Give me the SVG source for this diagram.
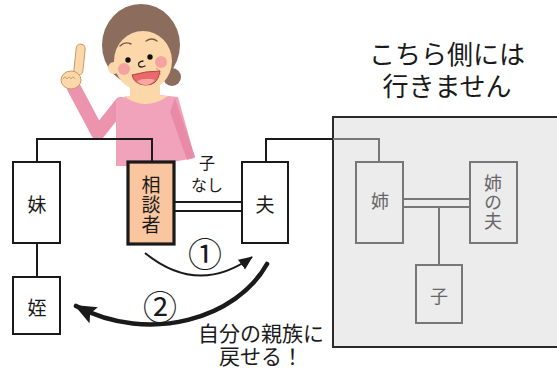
<svg xmlns="http://www.w3.org/2000/svg" width="557" height="368" viewBox="0 0 557 368">
  <style>
    text { font-family: "Noto Sans CJK JP", "Noto Sans", sans-serif; text-anchor: middle; dominant-baseline: central; fill: #1a1a1a; }
    .ml { font-family: "Liberation Sans", "Noto Sans CJK JP", sans-serif; }
    .vert { writing-mode: vertical-rl; letter-spacing: 1px; }
    .box { fill: #ffffff; stroke: #1a1a1a; stroke-width: 2; }
    .self { fill: #f9c6a0; stroke: #1a1a1a; stroke-width: 3.2; }
    .gbox { fill: #ececec; stroke: #777777; stroke-width: 2; }
    .area { fill: #ececec; stroke: #2a2a2a; stroke-width: 2; }
    .lbl { font-size: 19px; }
    .glbl { font-size: 18px; fill: #666666; }
    .ln { fill: none; stroke: #1a1a1a; stroke-width: 2; }
    .gln { fill: none; stroke: #777777; stroke-width: 2; }
    .skin { fill: #fcd7aa; }
    .hair { fill: #8c6d5d; }
  </style>
  <defs>
    <marker id="headThin" markerUnits="userSpaceOnUse" markerWidth="16" markerHeight="14" refX="13" refY="6" orient="auto">
      <path d="M0,0 L14,6 L0,12 Z" fill="#1a1a1a"/>
    </marker>
    <marker id="headBold" markerUnits="userSpaceOnUse" markerWidth="24" markerHeight="22" refX="20" refY="9" orient="auto">
      <path d="M0,0 L22,9 L0,18 L4,9 Z" fill="#1a1a1a"/>
    </marker>
  </defs>

  <!-- shaded area on the far side -->
  <g id="other-side">
    <rect class="area" x="333" y="117" width="230" height="230"/>
    <text class="ml" font-size="26"><tspan x="447" y="55">こちら側には</tspan><tspan x="447" y="87">行きません</tspan></text>
  </g>

  <!-- illustrated person pointing up -->
  <g id="person">
    <!-- raised arm -->
    <path d="M121,104 L98,133 L74,88" fill="none" stroke="#ec93ae" stroke-width="14" stroke-linejoin="round" stroke-linecap="round"/>
    <!-- torso -->
    <path d="M116,99 Q145,92 178,97 L195,158 L150,166 L116,166 Z" fill="#f1a3bb"/>
    <path d="M175,98 L195,157 L187,160 L170,112 Z" fill="#e98ba8"/>
    <!-- neck -->
    <rect class="skin" x="130" y="82" width="30" height="16"/>
    <path class="skin" d="M124,96 Q145,112 168,96 Z"/>
    <!-- hair -->
    <ellipse class="hair" cx="141" cy="45" rx="39" ry="41"/>
    <circle class="hair" cx="172" cy="77" r="9"/>
    <!-- ear and face -->
    <circle class="skin" cx="114" cy="68" r="6"/>
    <ellipse class="skin" cx="143" cy="61" rx="29" ry="30"/>
    <!-- brows, eyes, nose -->
    <path d="M120,46 Q125,41 131,44 M146,41 Q152,37 157,41" fill="none" stroke="#7a5a48" stroke-width="1.4" stroke-linecap="round"/>
    <circle cx="128" cy="60" r="2.7" fill="#111"/>
    <circle cx="150" cy="57" r="2.7" fill="#111"/>
    <path d="M143,61 Q137,62 139,66 Q141,68 145,66" fill="none" stroke="#222" stroke-width="1.3" stroke-linecap="round"/>
    <!-- cheeks -->
    <circle cx="124" cy="69" r="6" fill="#f5a3a0"/>
    <circle cx="161" cy="62" r="6" fill="#f5a3a0"/>
    <path d="M156,68 L160,71 M157,72 L161,74" stroke="#b88f6a" stroke-width="0.8" fill="none"/>
    <!-- open mouth -->
    <path d="M132,75 Q146,71 160,71 Q158,86 145,85 Q134,84 132,75 Z" fill="#e86a6a" stroke="#b5473f" stroke-width="1"/>
    <path d="M137,81 Q146,77 155,80 Q151,85 145,85 Q139,84 137,81 Z" fill="#f6a7a4"/>
    <!-- hand with raised finger -->
    <rect class="skin" x="75" y="44" width="9" height="31" rx="4.5" transform="rotate(6 79 60)" stroke="#c99a62" stroke-width="1"/>
    <ellipse class="skin" cx="71" cy="80" rx="10" ry="9" stroke="#c99a62" stroke-width="1"/>
    <path d="M63,79 q2,-4 4,0 q2,-4 4,0 q2,-4 4,0" fill="none" stroke="#c99a62" stroke-width="0.9"/>
  </g>

  <!-- connectors -->
  <g id="connectors">
    <path class="ln" d="M37,162 V139 H152 V162"/>
    <path class="ln" d="M37,243 V277"/>
    <path class="ln" d="M174,202 H242 M174,211 H242"/>
    <path class="ln" d="M266,162 V139 H333"/>
    <path class="gln" d="M333,139 H379 V162"/>
    <path class="gln" d="M403,199 H470 M403,207 H470"/>
    <path class="gln" d="M439,207 V265"/>
    <path d="M145,253 Q198,296 252,257" fill="none" stroke="#1a1a1a" stroke-width="2" marker-end="url(#headThin)"/>
    <path d="M267,264 C237,318 150,345 76,306" fill="none" stroke="#1a1a1a" stroke-width="4.6" stroke-linecap="round" marker-end="url(#headBold)"/>
  </g>

  <g id="sister">
    <rect class="box" x="13" y="162" width="47" height="81"/>
    <text class="lbl" x="37" y="203">妹</text>
  </g>
  <g id="self">
    <rect class="self" x="128" y="162" width="46" height="82"/>
    <text class="lbl vert" x="151" y="205">相談者</text>
  </g>
  <g id="husband">
    <rect class="box" x="242" y="162" width="46" height="81"/>
    <text class="lbl" x="265" y="203">夫</text>
  </g>
  <g id="niece">
    <rect class="box" x="13" y="277" width="47" height="57"/>
    <text class="lbl" x="37" y="306">姪</text>
  </g>
  <g id="elder-sister">
    <rect class="gbox" x="356" y="162" width="47" height="81"/>
    <text class="glbl" x="380" y="200">姉</text>
  </g>
  <g id="elder-sister-husband">
    <rect class="gbox" x="470" y="162" width="47" height="81"/>
    <text class="glbl vert" x="493" y="203">姉の夫</text>
  </g>
  <g id="child">
    <rect class="gbox" x="416" y="265" width="46" height="58"/>
    <text class="glbl" x="439" y="295">子</text>
  </g>

  <!-- labels -->
  <g id="labels">
    <text font-size="16"><tspan x="207" y="162">子</tspan><tspan x="207" y="184">なし</tspan></text>
    <text x="205" y="252" font-size="34">①</text>
    <text x="160" y="305" font-size="34">②</text>
    <text class="ml" font-size="21"><tspan x="261" y="333">自分の親族に</tspan><tspan x="261" y="356">戻せる！</tspan></text>
  </g>
</svg>
